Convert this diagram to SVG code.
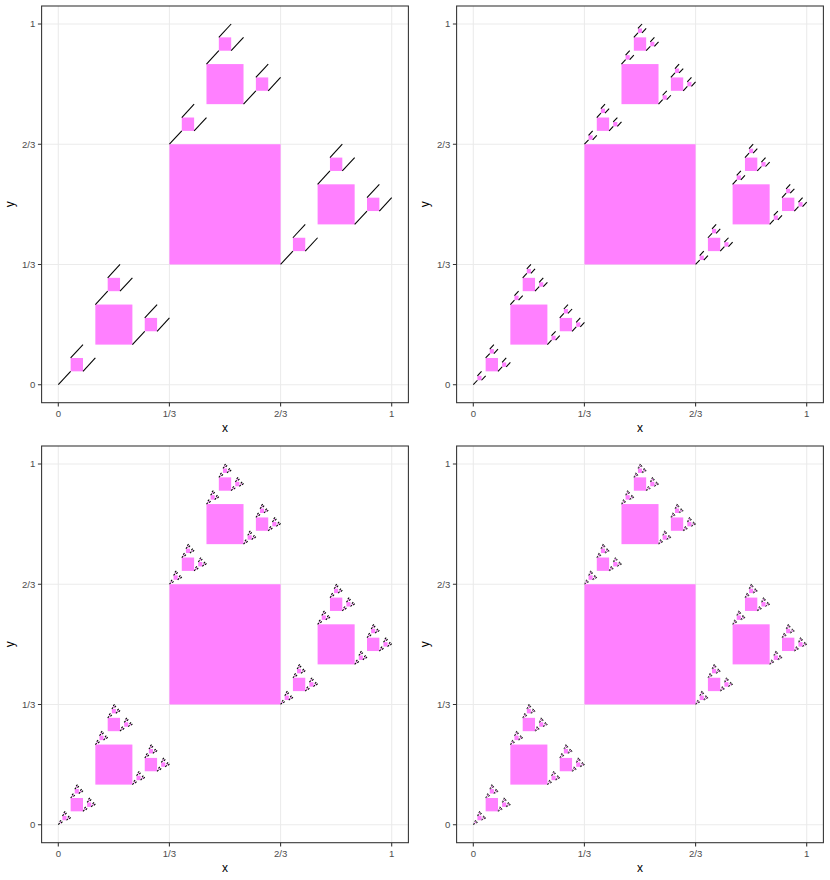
<svg xmlns="http://www.w3.org/2000/svg" xmlns:xlink="http://www.w3.org/1999/xlink" width="830" height="880" viewBox="0 0 830 880">
<style>
.bg{fill:#fff}
.grid{stroke:#EBEBEB;stroke-width:1.07;fill:none}
.border{fill:none;stroke:#333333;stroke-width:1.07}
.tick{stroke:#333333;stroke-width:1.07}
.sq{fill:#FF80FF;stroke:none}
.seg{stroke:#000;stroke-width:1.07;fill:none;vector-effect:non-scaling-stroke}
.tl{font-family:"Liberation Sans",Arial,sans-serif;font-size:9.6px;fill:#4D4D4D}
.tt{font-family:"Liberation Sans",Arial,sans-serif;font-size:12px;fill:#000}
</style>
<defs>
<g id="f0"><line class="seg" x1="0" y1="0" x2="1" y2="1"/></g>
<g id="f1"><rect class="sq" x="0.3333333" y="0.3333333" width="0.3333333" height="0.3333333"/><use href="#f0" transform="scale(0.3333333)"/><use href="#f0" transform="translate(0.3333333,0.6666667) scale(0.3333333)"/><use href="#f0" transform="translate(0.6666667,0.3333333) scale(0.3333333)"/></g>
<g id="f2"><rect class="sq" x="0.3333333" y="0.3333333" width="0.3333333" height="0.3333333"/><use href="#f1" transform="scale(0.3333333)"/><use href="#f1" transform="translate(0.3333333,0.6666667) scale(0.3333333)"/><use href="#f1" transform="translate(0.6666667,0.3333333) scale(0.3333333)"/></g>
<g id="f3"><rect class="sq" x="0.3333333" y="0.3333333" width="0.3333333" height="0.3333333"/><use href="#f2" transform="scale(0.3333333)"/><use href="#f2" transform="translate(0.3333333,0.6666667) scale(0.3333333)"/><use href="#f2" transform="translate(0.6666667,0.3333333) scale(0.3333333)"/></g>
<g id="f4"><rect class="sq" x="0.3333333" y="0.3333333" width="0.3333333" height="0.3333333"/><use href="#f3" transform="scale(0.3333333)"/><use href="#f3" transform="translate(0.3333333,0.6666667) scale(0.3333333)"/><use href="#f3" transform="translate(0.6666667,0.3333333) scale(0.3333333)"/></g>
<g id="f5"><rect class="sq" x="0.3333333" y="0.3333333" width="0.3333333" height="0.3333333"/><use href="#f4" transform="scale(0.3333333)"/><use href="#f4" transform="translate(0.3333333,0.6666667) scale(0.3333333)"/><use href="#f4" transform="translate(0.6666667,0.3333333) scale(0.3333333)"/></g>
<g id="f6"><rect class="sq" x="0.3333333" y="0.3333333" width="0.3333333" height="0.3333333"/><use href="#f5" transform="scale(0.3333333)"/><use href="#f5" transform="translate(0.3333333,0.6666667) scale(0.3333333)"/><use href="#f5" transform="translate(0.6666667,0.3333333) scale(0.3333333)"/></g>
<g id="frame">
<rect class="bg" x="41.6" y="6" width="366.8" height="396.7"/>
<path class="grid" d="M58.3 6V402.7M169.4 6V402.7M280.6 6V402.7M391.7 6V402.7M41.6 24H408.4M41.6 144.2H408.4M41.6 264.5H408.4M41.6 384.7H408.4"/>
</g>
<g id="axes">
<rect class="border" x="41.6" y="6" width="366.8" height="396.7"/>
<path class="tick" d="M58.3 402.7V406.4M169.4 402.7V406.4M280.6 402.7V406.4M391.7 402.7V406.4M37.9 24H41.6M37.9 144.2H41.6M37.9 264.5H41.6M37.9 384.7H41.6"/>
<g class="tl" text-anchor="middle">
<text x="58.3" y="417">0</text>
<text x="169.4" y="417">1/3</text>
<text x="280.6" y="417">2/3</text>
<text x="391.7" y="417">1</text>
</g>
<g class="tl" text-anchor="end">
<text x="35.3" y="27.4">1</text>
<text x="35.3" y="147.6">2/3</text>
<text x="35.3" y="267.9">1/3</text>
<text x="35.3" y="388.1">0</text>
</g>
<text class="tt" x="225" y="432" text-anchor="middle">x</text>
<text class="tt" x="14.5" y="204.3" text-anchor="middle" transform="rotate(-90 14.5 204.3)">y</text>
</g>
</defs>
<g id="panel1">
<use href="#frame"/>
<use href="#f3" transform="translate(58.3,384.7) scale(333.4,-360.7)"/>
<use href="#axes"/>
</g>
<g id="panel2" transform="translate(415,0)">
<use href="#frame"/>
<use href="#f4" transform="translate(58.3,384.7) scale(333.4,-360.7)"/>
<use href="#axes"/>
</g>
<g id="panel3" transform="translate(0,440)">
<use href="#frame"/>
<use href="#f5" transform="translate(58.3,384.7) scale(333.4,-360.7)"/>
<use href="#axes"/>
</g>
<g id="panel4" transform="translate(415,440)">
<use href="#frame"/>
<use href="#f6" transform="translate(58.3,384.7) scale(333.4,-360.7)"/>
<use href="#axes"/>
</g>
</svg>
